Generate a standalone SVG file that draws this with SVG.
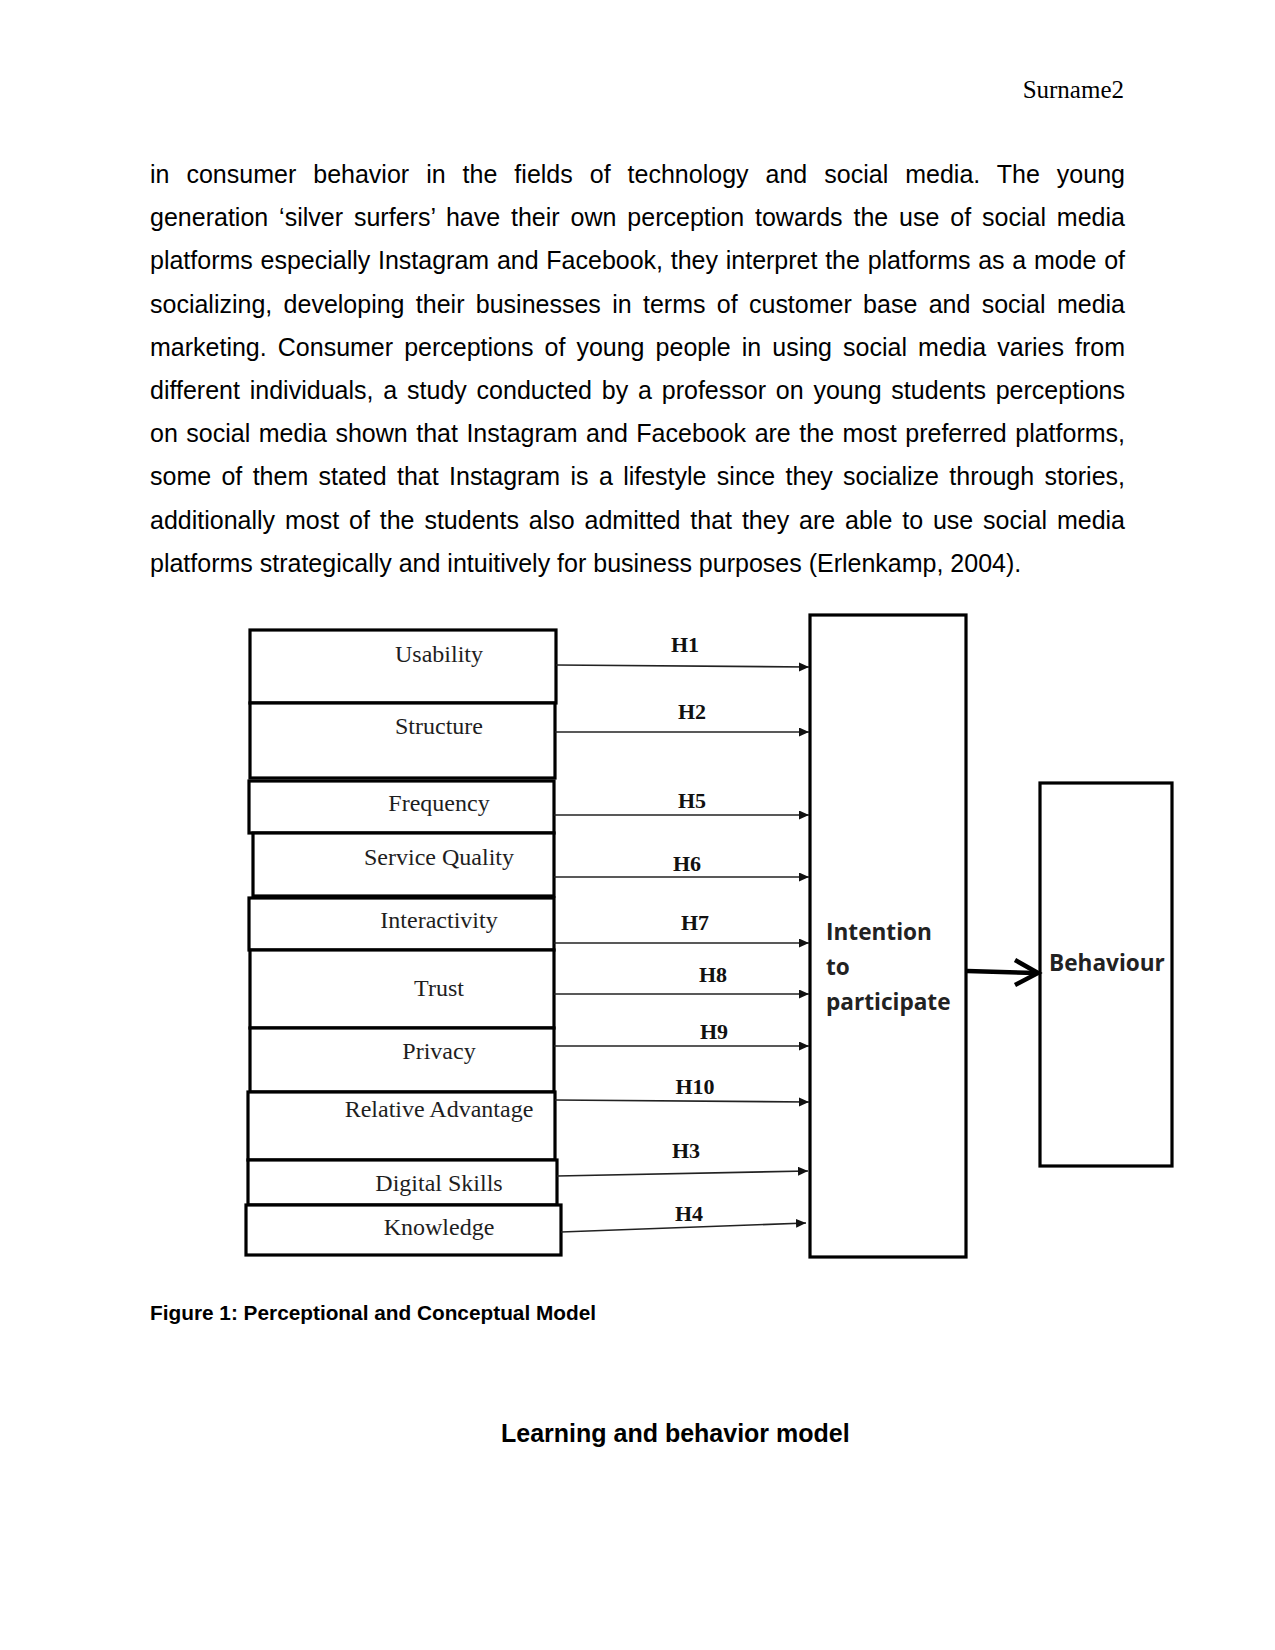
<svg xmlns="http://www.w3.org/2000/svg" width="1275" height="1650" viewBox="0 0 1275 1650">
<style>
.body{font-family:"Liberation Sans",Arial,sans-serif;font-size:25px;fill:#000}
.hdr{font-family:"Liberation Serif","Times New Roman",serif;font-size:25px;fill:#000}
.cap{font-family:"Liberation Sans",Arial,sans-serif;font-weight:bold;fill:#000}
.box{fill:#fff;stroke:#000;stroke-width:3.2}
.lbl{font-family:"Liberation Serif","Times New Roman",serif;font-size:24px;fill:#1e1e1e;text-anchor:middle}
.h{font-family:"Liberation Serif","Times New Roman",serif;font-size:22px;font-weight:bold;fill:#111;text-anchor:middle}
.big{font-family:"Open Sans","Noto Sans",sans-serif;font-size:22.6px;font-weight:bold;fill:#222}
.ln{stroke:#222;stroke-width:1.6;fill:none;marker-end:url(#ah)}
</style>
<defs>
<marker id="ah" markerUnits="userSpaceOnUse" markerWidth="11" markerHeight="10" refX="10" refY="4.5" orient="auto">
<path d="M0,0 L10,4.5 L0,9 z" fill="#111"/>
</marker>
</defs>
<rect width="1275" height="1650" fill="#fff"/>
<text class="hdr" x="1124" y="98" text-anchor="end">Surname2</text>
<g id="paragraph">
<text class="body" x="150" y="183" word-spacing="10.03" textLength="975" lengthAdjust="spacing">in consumer behavior in the fields of technology and social media. The young</text>
<text class="body" x="150" y="226" word-spacing="3.9" textLength="975" lengthAdjust="spacing">generation ‘silver surfers’ have their own perception towards the use of social media</text>
<text class="body" x="150" y="269" word-spacing="0.77" textLength="975" lengthAdjust="spacing">platforms especially Instagram and Facebook, they interpret the platforms as a mode of</text>
<text class="body" x="150" y="313" word-spacing="4.39" textLength="975" lengthAdjust="spacing">socializing, developing their businesses in terms of customer base and social media</text>
<text class="body" x="150" y="356" word-spacing="4.13" textLength="975" lengthAdjust="spacing">marketing. Consumer perceptions of young people in using social media varies from</text>
<text class="body" x="150" y="399" word-spacing="2.86" textLength="975" lengthAdjust="spacing">different individuals, a study conducted by a professor on young students perceptions</text>
<text class="body" x="150" y="442" word-spacing="1.58" textLength="975" lengthAdjust="spacing">on social media shown that Instagram and Facebook are the most preferred platforms,</text>
<text class="body" x="150" y="485" word-spacing="3.39" textLength="975" lengthAdjust="spacing">some of them stated that Instagram is a lifestyle since they socialize through stories,</text>
<text class="body" x="150" y="529" word-spacing="2.94" textLength="975" lengthAdjust="spacing">additionally most of the students also admitted that they are able to use social media</text>
<text class="body" x="150" y="572">platforms strategically and intuitively for business purposes (Erlenkamp, 2004).</text>
</g>
<g id="n-usability"><rect class="box" x="250" y="630" width="306" height="73"/><text class="lbl" x="439" y="662">Usability</text></g>
<g id="n-structure"><rect class="box" x="250" y="703" width="305" height="75"/><text class="lbl" x="439" y="734">Structure</text></g>
<g id="n-frequency"><rect class="box" x="249" y="781" width="305" height="52"/><text class="lbl" x="439" y="811">Frequency</text></g>
<g id="n-service"><rect class="box" x="253" y="833" width="301" height="63"/><text class="lbl" x="439" y="865">Service Quality</text></g>
<g id="n-interactivity"><rect class="box" x="249" y="898" width="305" height="52"/><text class="lbl" x="439" y="928">Interactivity</text></g>
<g id="n-trust"><rect class="box" x="250" y="950" width="304" height="78"/><text class="lbl" x="439" y="996">Trust</text></g>
<g id="n-privacy"><rect class="box" x="250" y="1028" width="304" height="64"/><text class="lbl" x="439" y="1059">Privacy</text></g>
<g id="n-relative"><rect class="box" x="248" y="1092" width="307" height="68"/><text class="lbl" x="439" y="1117">Relative Advantage</text></g>
<g id="n-digital"><rect class="box" x="248" y="1160" width="309" height="45"/><text class="lbl" x="439" y="1191">Digital Skills</text></g>
<g id="n-knowledge"><rect class="box" x="246" y="1205" width="315" height="50"/><text class="lbl" x="439" y="1235">Knowledge</text></g>
<g id="n-intention"><rect class="box" x="810" y="615" width="156" height="642"/>
<text class="big" x="826" y="940">Intention</text><text class="big" x="826" y="975">to</text><text class="big" x="826" y="1010">participate</text></g>
<g id="n-behaviour"><rect class="box" x="1040" y="783" width="132" height="383"/><text class="big" x="1049" y="971">Behaviour</text></g>
<g id="connectors">
<line class="ln" x1="556" y1="665" x2="809" y2="667"/>
<line class="ln" x1="555" y1="732" x2="809" y2="732"/>
<line class="ln" x1="554" y1="815" x2="809" y2="815"/>
<line class="ln" x1="554" y1="877" x2="809" y2="877"/>
<line class="ln" x1="554" y1="943" x2="809" y2="943"/>
<line class="ln" x1="554" y1="994" x2="809" y2="994"/>
<line class="ln" x1="554" y1="1046" x2="809" y2="1046"/>
<line class="ln" x1="555" y1="1100" x2="809" y2="1102"/>
<line class="ln" x1="557" y1="1176" x2="808" y2="1171"/>
<line class="ln" x1="561" y1="1232" x2="806" y2="1223"/>
<line x1="967" y1="971" x2="1036" y2="973" stroke="#000" stroke-width="4.5"/>
<polyline points="1015,960 1038,973 1015,985" fill="none" stroke="#000" stroke-width="4.5"/>
<text class="h" x="685" y="652">H1</text>
<text class="h" x="692" y="719">H2</text>
<text class="h" x="692" y="808">H5</text>
<text class="h" x="687" y="871">H6</text>
<text class="h" x="695" y="930">H7</text>
<text class="h" x="713" y="982">H8</text>
<text class="h" x="714" y="1039">H9</text>
<text class="h" x="695" y="1094">H10</text>
<text class="h" x="686" y="1158">H3</text>
<text class="h" x="689" y="1221">H4</text>
</g>
<text class="cap" x="150" y="1320" font-size="20.8">Figure 1: Perceptional and Conceptual Model</text>
<text class="cap" x="501" y="1442" font-size="25">Learning and behavior model</text>
</svg>
